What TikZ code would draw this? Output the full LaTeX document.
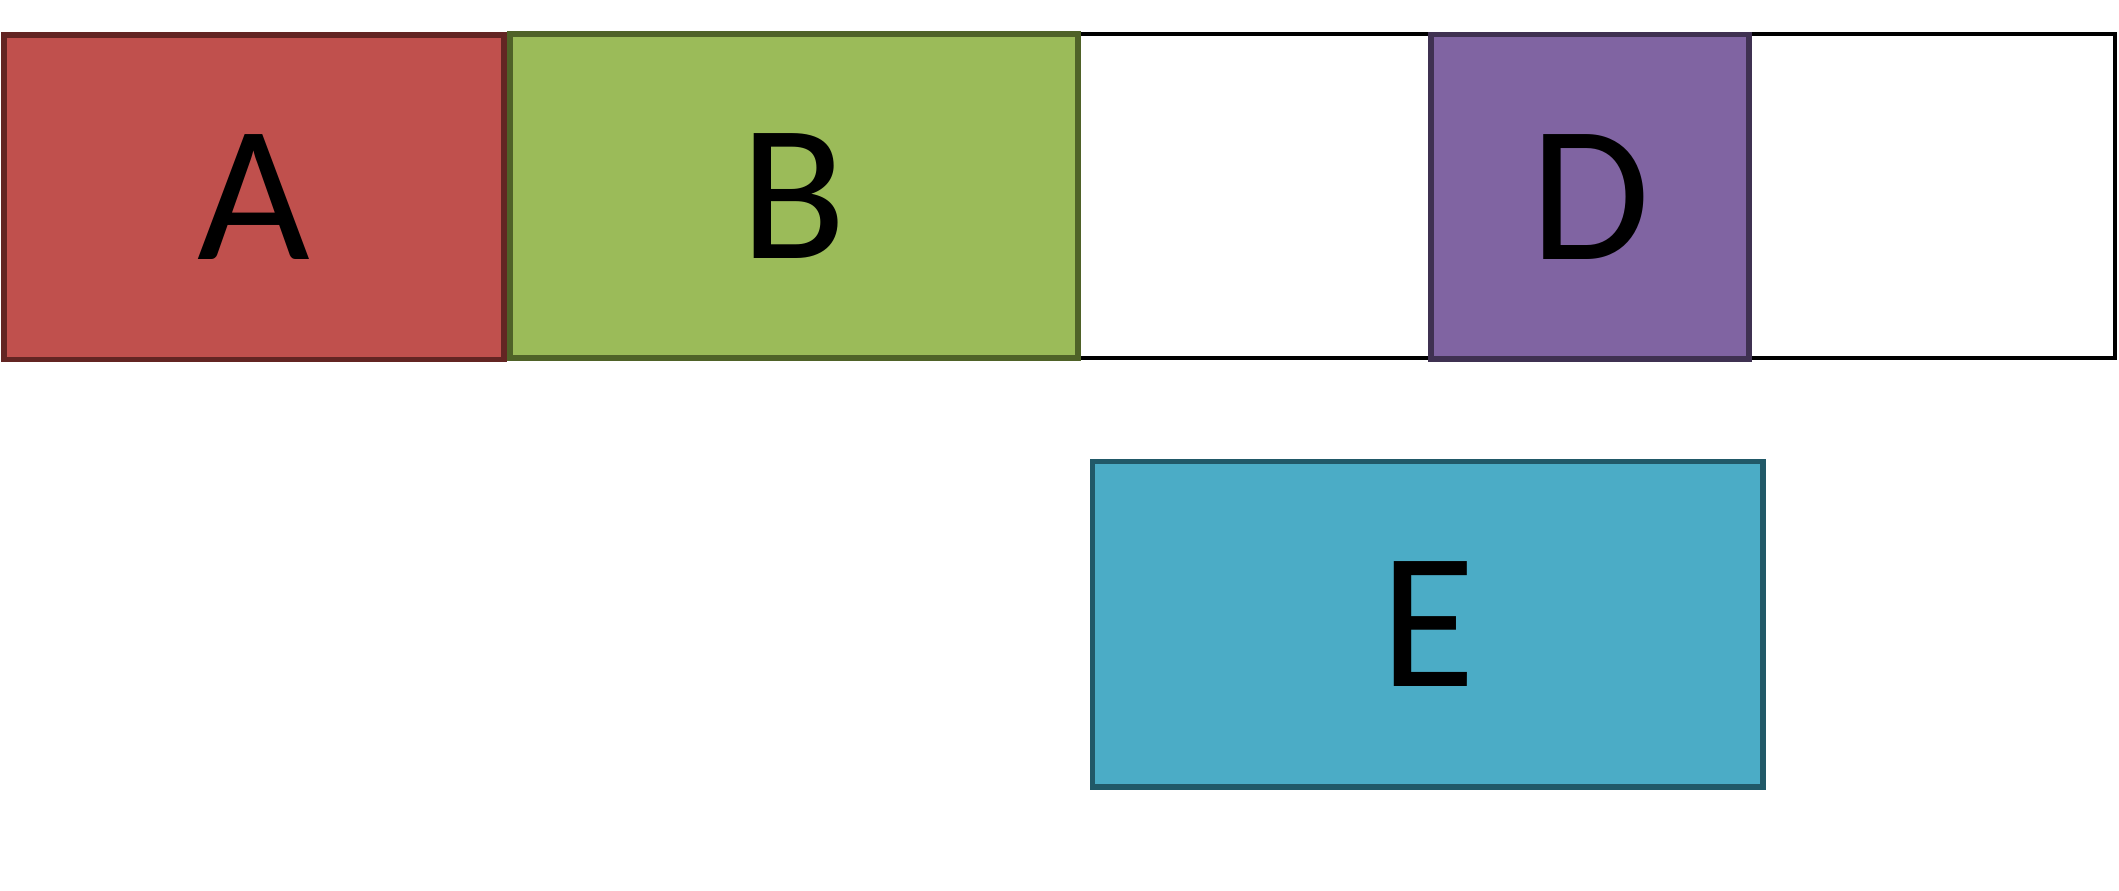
\documentclass[tikz,border=0pt]{standalone}
\usepackage{fontspec}
\setmainfont{Carlito}
\definecolor{redfill}{HTML}{C0504D}
\definecolor{reddraw}{HTML}{632523}
\definecolor{greenfill}{HTML}{9BBB59}
\definecolor{greendraw}{HTML}{4F6228}
\definecolor{purplefill}{HTML}{8064A2}
\definecolor{purpledraw}{HTML}{3F3151}
\definecolor{bluefill}{HTML}{4BACC6}
\definecolor{bluedraw}{HTML}{215968}

\begin{document}
\begin{tikzpicture}[x=0.05cm,y=-0.05cm,
   blk/.style n args={4}{rectangle,draw=#1,fill=#2,line width=6pt,minimum width=#3*0.05cm,minimum height=#4*0.05cm,inner sep=0pt,font=\fontsize{205}{205}\selectfont}]
\useasboundingbox (0,0) rectangle (1568,659);
\draw[line width=4pt] (798,25) rectangle (1565,265);
\node[blk={reddraw}{redfill}{370}{240}] (a) at (188,146) {A};
\node[blk={greendraw}{greenfill}{420}{240}] (b) at (587.5,145) {B};
\node[blk={purpledraw}{purplefill}{235}{240}] (d) at (1176.5,145.5) {D};
\node[blk={bluedraw}{bluefill}{496}{241}] (e) at (1056.5,462) {E};
\end{tikzpicture}
\end{document}
